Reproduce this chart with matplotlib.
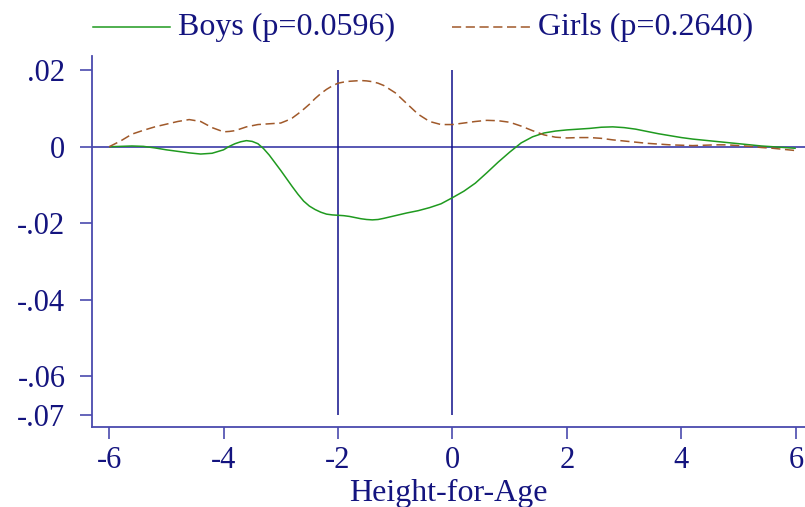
import matplotlib
matplotlib.use("Agg")
import matplotlib.pyplot as plt
from matplotlib.lines import Line2D

# Difference in density of height-for-age z-scores, by sex
haz = [-6.0, -5.8, -5.6, -5.4, -5.2, -5.0, -4.8, -4.6, -4.4, -4.2, -4.0, -3.9, -3.8,
       -3.7, -3.6, -3.5, -3.4, -3.3, -3.2, -3.1, -3.0, -2.9, -2.8, -2.7, -2.6, -2.5,
       -2.4, -2.3, -2.2, -2.1, -2.0, -1.9, -1.8, -1.7, -1.6, -1.5, -1.4, -1.3, -1.2,
       -1.0, -0.8, -0.6, -0.4, -0.2, 0.0, 0.2, 0.4, 0.6, 0.8, 1.0, 1.2, 1.4, 1.6,
       1.8, 2.0, 2.2, 2.4, 2.6, 2.8, 3.0, 3.2, 3.4, 3.6, 3.8, 4.0, 4.2, 4.4, 4.6,
       4.8, 5.0, 5.2, 5.4, 5.6, 5.8, 6.0]

boys = [0.0, 0.0001, 0.0002, 0.0001, -0.0003, -0.0008, -0.0012, -0.0016, -0.0019,
        -0.0017, -0.0008, 0.0001, 0.0008, 0.0013, 0.0016, 0.0014, 0.0008, -0.0005,
        -0.0022, -0.0042, -0.0062, -0.0083, -0.0104, -0.0124, -0.0142, -0.0155,
        -0.0164, -0.0171, -0.0176, -0.0178, -0.0179, -0.0180, -0.0182, -0.0185,
        -0.0188, -0.0190, -0.0191, -0.0190, -0.0187, -0.0180, -0.0173, -0.0167,
        -0.0159, -0.0149, -0.0133, -0.0116, -0.0095, -0.0068, -0.0040, -0.0014,
        0.0010, 0.0026, 0.0036, 0.0041, 0.0044, 0.0046, 0.0048, 0.0051, 0.0052,
        0.0050, 0.0046, 0.0040, 0.0034, 0.0029, 0.0024, 0.0020, 0.0017, 0.0014,
        0.0011, 0.0008, 0.0005, 0.0002, 0.0000, -0.0002, -0.0004]

girls = [0.0, 0.0015, 0.0033, 0.0043, 0.0052, 0.0059, 0.0066, 0.0071, 0.0066,
         0.0050, 0.0039, 0.0040, 0.0042, 0.0047, 0.0052, 0.0055, 0.0058, 0.0059,
         0.0060, 0.0061, 0.0062, 0.0068, 0.0075, 0.0086, 0.0098, 0.0111, 0.0126,
         0.0139, 0.0150, 0.0159, 0.0166, 0.0169, 0.0171, 0.0172, 0.0173, 0.0172,
         0.0170, 0.0166, 0.0160, 0.0141, 0.0113, 0.0085, 0.0066, 0.0058, 0.0058,
         0.0062, 0.0066, 0.0069, 0.0068, 0.0064, 0.0054, 0.0042, 0.0031, 0.0025,
         0.0023, 0.0024, 0.0024, 0.0022, 0.0018, 0.0015, 0.0012, 0.0009, 0.0007,
         0.0005, 0.0004, 0.0003, 0.0004, 0.0005, 0.0005, 0.0003, 0.0001, -0.0002,
         -0.0004, -0.0007, -0.0010]

labels = ["Boys (p=0.0596)", "Girls (p=0.2640)"]
xticks = [-6, -4, -2, 0, 2, 4, 6]
yticks = [0.02, 0.0, -0.02, -0.04, -0.06, -0.07]
yticklabels = [".02", "0", "-.02", "-.04", "-.06", "-.07"]
cutoffs = [-2, 0]

NAVY = "#14147f"
AXIS = "#4a4aae"
GREEN = "#1f9a1f"
BROWN = "#a0592a"

plt.rcParams["font.family"] = ["Liberation Serif", "DejaVu Serif"]

fig = plt.figure(figsize=(8.05, 5.07), dpi=100)
ax = fig.add_axes([0.1149, 0.1578, 1.0 - 0.1149, 0.8895 - 0.1578])

ax.plot(haz, boys, color=GREEN, lw=1.1, solid_capstyle="butt")
ax.plot(haz, girls, color=BROWN, lw=1.1, linestyle=(0, (6, 3)))

ax.axhline(0, color=AXIS, lw=1.3, zorder=1)
for c in cutoffs:
    ax.vlines(c, -0.07, 0.02, color="#10108a", lw=1.1, zorder=1)

ax.set_xlim(-6.29, 6.16)
ax.set_ylim(-0.0732, 0.0237)

for s in ["top", "right"]:
    ax.spines[s].set_visible(False)
for s in ["left", "bottom"]:
    ax.spines[s].set_color(AXIS)
    ax.spines[s].set_linewidth(1.3)

ax.set_xticks(xticks)
ax.set_xticklabels([str(t) for t in xticks])
ax.set_yticks(yticks)
ax.set_yticklabels(yticklabels)
ax.tick_params(axis="both", colors=AXIS, labelcolor=NAVY, labelsize=22,
               length=8.5, width=1.2, direction="out")
ax.tick_params(axis="y", pad=11)
ax.tick_params(axis="x", pad=5)

ax.set_xlabel("Height-for-Age", fontsize=23, color=NAVY, labelpad=3)

# Legend row above the plot
y_leg = 1 - 27 / 507
fig.add_artist(Line2D([93 / 805, 170 / 805], [y_leg, y_leg], color=GREEN, lw=1.1))
fig.add_artist(Line2D([452 / 805, 530 / 805], [y_leg, y_leg], color=BROWN, lw=1.1,
                      linestyle=(0, (6, 3))))
fig.text(178 / 805, y_leg, labels[0], fontsize=23, color=NAVY, va="center", ha="left")
fig.text(538 / 805, y_leg, labels[1], fontsize=23, color=NAVY, va="center", ha="left")

fig.savefig("out.png", dpi=100)
